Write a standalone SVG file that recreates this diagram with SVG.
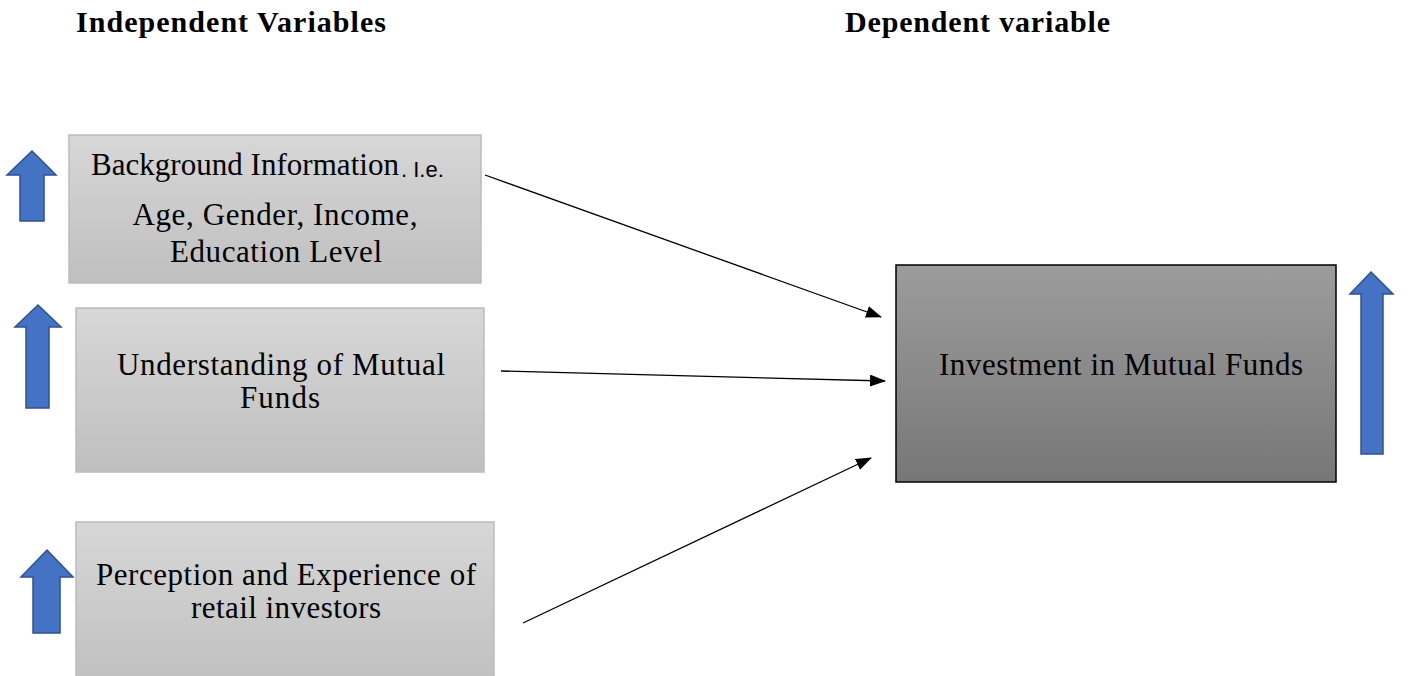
<svg xmlns="http://www.w3.org/2000/svg" width="1413" height="676" viewBox="0 0 1413 676">
<style>
.t{font-family:"Liberation Serif","Times New Roman",serif;font-size:31px;fill:#000;}
.h{font-family:"Liberation Serif","Times New Roman",serif;font-size:30px;font-weight:bold;fill:#000;}
.s{font-family:"Liberation Sans",Arial,sans-serif;font-size:22px;fill:#000;}
.lb{fill:url(#lg);stroke:#bcbcbc;stroke-width:1.5;}
.db{fill:url(#dg);stroke:#000;stroke-width:1.5;}
.up{fill:#4472C4;stroke:#2F528F;stroke-width:1.5;}
.c{stroke:#000;stroke-width:1.3;fill:none;marker-end:url(#ah);}
</style>
<defs>
<linearGradient id="lg" x1="0" y1="0" x2="0" y2="1"><stop offset="0" stop-color="#d7d7d7"/><stop offset="1" stop-color="#bfbfbf"/></linearGradient>
<linearGradient id="dg" x1="0" y1="0" x2="0" y2="1"><stop offset="0" stop-color="#9c9c9c"/><stop offset="1" stop-color="#777777"/></linearGradient>
<marker id="ah" markerWidth="16" markerHeight="12" refX="15" refY="6" orient="auto" markerUnits="userSpaceOnUse"><path d="M0,0 L16,6 L0,12 Z" fill="#000"/></marker>
</defs>
<rect width="1413" height="676" fill="#fff"/>
<g id="headers">
<text class="h" x="76" y="32" textLength="310" lengthAdjust="spacing">Independent Variables</text>
<text class="h" x="845" y="32" textLength="265" lengthAdjust="spacing">Dependent variable</text>
</g>
<g id="node-background">
<rect class="lb" x="69" y="135" width="412" height="148"/>
<text class="t" x="91" y="175" textLength="308" lengthAdjust="spacing">Background Information</text><text class="s" x="401" y="177">. I.e.</text>
<text class="t" x="275" y="225" text-anchor="middle" textLength="285" lengthAdjust="spacing">Age, Gender, Income,</text>
<text class="t" x="276" y="262" text-anchor="middle" textLength="212" lengthAdjust="spacing">Education Level</text>
</g>
<g id="node-understanding">
<rect class="lb" x="76" y="308" width="408" height="164"/>
<text class="t" x="281" y="375" text-anchor="middle" textLength="328" lengthAdjust="spacing">Understanding of Mutual</text>
<text class="t" x="280" y="408" text-anchor="middle" textLength="80" lengthAdjust="spacing">Funds</text>
</g>
<g id="node-perception">
<rect class="lb" x="76" y="522" width="418" height="170"/>
<text class="t" x="286" y="585" text-anchor="middle" textLength="380" lengthAdjust="spacing">Perception and Experience of</text>
<text class="t" x="286" y="618" text-anchor="middle" textLength="190" lengthAdjust="spacing">retail investors</text>
</g>
<g id="node-investment">
<rect class="db" x="896" y="265" width="440" height="217"/>
<text class="t" x="1121" y="375" text-anchor="middle" textLength="364" lengthAdjust="spacing">Investment in Mutual Funds</text>
</g>
<g id="up-arrows">
<path class="up" d="M32,151 L56,175 L44,175 L44,221 L20,221 L20,175 L7,175 Z"/>
<path class="up" d="M38,305 L61,327 L49,327 L49,408 L26,408 L26,327 L15,327 Z"/>
<path class="up" d="M47,550 L73,577 L60,577 L60,633 L33,633 L33,577 L21,577 Z"/>
<path class="up" d="M1371,272 L1393,294 L1383,294 L1383,454 L1361,454 L1361,294 L1350,294 Z"/>
</g>
<g id="connectors">
<line class="c" x1="485" y1="175" x2="881" y2="317"/>
<line class="c" x1="501" y1="371" x2="885" y2="381"/>
<line class="c" x1="523" y1="623" x2="871" y2="458"/>
</g>
</svg>
